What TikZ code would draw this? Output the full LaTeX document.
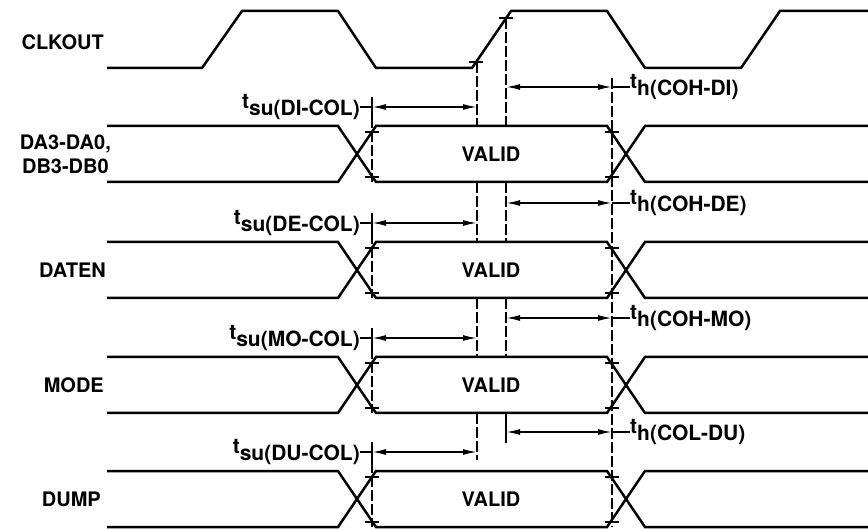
\documentclass[tikz,border=0pt]{standalone}
\usepackage{fontspec}
\setmainfont{TeX Gyre Heros}
\usetikzlibrary{arrows.meta}
\newcommand{\tsub}[1]{t\raisebox{-0.32em}{#1}}

\begin{document}
\begin{tikzpicture}[x=1pt,y=-1pt,
    sig/.style={line width=2.5pt},
    mark line/.style={line width=1.8pt},
    guide/.style={line width=1.6pt,dash pattern=on 11pt off 3pt},
    dim/.style={line width=1.6pt,{Latex[length=14pt,width=6pt]}-{Latex[length=14pt,width=6pt]}},
    lbl/.style={font=\fontsize{20}{24}\selectfont\bfseries,inner sep=0pt},
    tlbl/.style={font=\fontsize{21}{24}\selectfont\bfseries,inner sep=0pt}]
  \useasboundingbox (0,0) rectangle (868,529);
  % clock
  \draw[sig] (107,68) -- (202,68) -- (242,11) -- (338,11) -- (376,68) -- (472,68)
    -- (511,11) -- (607,11) -- (645,68) -- (741,68) -- (780,11) -- (868,11);
  \draw[mark line] (469,62) -- (483,62);
  \draw[mark line] (499,18) -- (513,18);
  % signal names
  \node[lbl,anchor=east] (clk) at (104,42) {CLKOUT};
  \node[lbl,anchor=east,align=center] (da) at (111,154) {DA3-DA0,\\DB3-DB0};
  \node[lbl,anchor=east] (daten) at (106,270) {DATEN};
  \node[lbl,anchor=east] (mode) at (104,385) {MODE};
  \node[lbl,anchor=east] (dump) at (101,499) {DUMP};
  % data rows with setup and hold times
  \foreach \yt/\su/\hd/\n in {126/DI-COL/COH-DI/1, 242/DE-COL/COH-DE/2,
                              357/MO-COL/COH-MO/3, 471/DU-COL/COL-DU/4}{
    \pgfmathsetmacro\yb{\yt+56}
    \draw[sig] (107,\yt) -- (338,\yt) -- (376,\yb) -- (607,\yb) -- (645,\yt) -- (868,\yt);
    \draw[sig] (107,\yb) -- (338,\yb) -- (376,\yt) -- (607,\yt) -- (645,\yb) -- (868,\yb);
    \node[lbl] (valid-\n) at (491,\yt+28) {VALID};
    \foreach \x in {372,612}{
      \draw[mark line] (\x-7,\yt+6) -- (\x+7,\yt+6);
      \draw[mark line] (\x-7,\yb-5) -- (\x+7,\yb-5);
    }
    % setup
    \coordinate (su-\n) at (372,\yt-19);
    \coordinate (ce-\n) at (477,\yt-19);
    \draw[mark line] (372,\yt-29) -- (372,\yt-9);
    \draw[guide] (372,\yt-9) -- (372,\yb);
    \node[tlbl,anchor=east] (tsu-\n) at (360,\yt-19) {\tsub{su(\su)}};
    \draw[mark line] (tsu-\n.east) -- (su-\n);
    \draw[dim] (su-\n) -- (ce-\n);
    % hold
    \coordinate (co-\n) at (506,\yt-39);
    \coordinate (hd-\n) at (612,\yt-39);
    \draw[dim] (co-\n) -- (hd-\n);
    \node[tlbl,anchor=west] (th-\n) at (630,\yt-39) {\tsub{h(\hd)}};
    \draw[mark line] (hd-\n) -- (th-\n.west);
  }
  % clock edge references
  \draw[guide] (477,62) -- (477,126) (477,182) -- (477,242)
    (477,298) -- (477,357) (477,413) -- (477,460);
  \draw[guide] (506,18) -- (506,126) (506,182) -- (506,242)
    (506,298) -- (506,357) (506,413) -- (506,432);
  \draw[mark line] (506,423) -- (506,443);
  \draw[guide] (612,78) -- (612,527);
\end{tikzpicture}
\end{document}
